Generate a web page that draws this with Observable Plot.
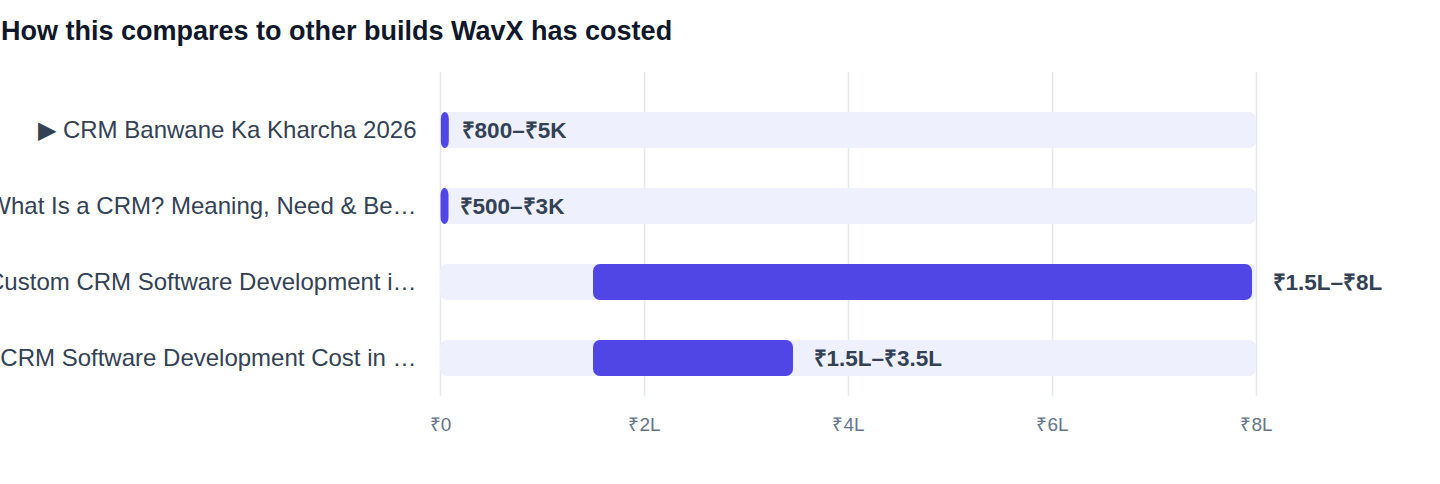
<!DOCTYPE html>
<html>
<head>
<meta charset="utf-8">
<script src="https://cdn.jsdelivr.net/npm/d3@7"></script>
<script src="https://cdn.jsdelivr.net/npm/@observablehq/plot@0.6"></script>
<style>
  html, body { margin: 0; padding: 0; background: #ffffff; }
  body { font-family: "Liberation Sans", Arial, Helvetica, sans-serif; }
  #title { margin: 0; height: 60px; line-height: 62px; font-size: 27px; font-weight: 700; color: #0f172a; padding-left: 1px; white-space: nowrap; }
  #chart svg { overflow: visible; }
</style>
</head>
<body>
<div id="title">How this compares to other builds WavX has costed</div>
<div id="chart"></div>
<script>
const categories = [
  "▶ CRM Banwane Ka Kharcha 2026",
  "What Is a CRM? Meaning, Need & Be…",
  "Custom CRM Software Development i…",
  "CRM Software Development Cost in …"
];
const lows = [800, 500, 150000, 150000];
const highs = [5000, 3000, 800000, 350000];
const rangeLabels = ["₹800–₹5K", "₹500–₹3K", "₹1.5L–₹8L", "₹1.5L–₹3.5L"];
const scaleMax = 800000;
const tickValues = [0, 200000, 400000, 600000, 800000];
const tickLabels = ["₹0", "₹2L", "₹4L", "₹6L", "₹8L"];

const rows = categories.map((c, i) => ({
  label: c, low: lows[i], high: highs[i], text: rangeLabels[i], max: scaleMax
}));

const RANGE_FILL = "#4f46e5";

const chart = Plot.plot({
  width: 1440,
  height: 424,
  marginLeft: 440,
  marginRight: 184,
  marginTop: 12,
  marginBottom: 88,
  style: { fontFamily: "'Liberation Sans', Arial, Helvetica, sans-serif", color: "#334155", background: "white" },
  x: { domain: [0, scaleMax], axis: null },
  y: { domain: categories, range: [32, 336], padding: 0, axis: null },
  marks: [
    Plot.ruleX(tickValues, { stroke: "#e2e8f0", strokeWidth: 1.5 }),
    Plot.barX(rows, { x1: 0, x2: "max", y: "label", fill: "#eef0fd", rx: 7, insetTop: 20, insetBottom: 20 }),
    Plot.barX(rows, { x1: "low", x2: "high", y: "label", fill: RANGE_FILL, rx: 7, insetTop: 20, insetBottom: 20 }),
    Plot.text(rows, { x: "high", y: "label", text: "text", dx: 16, textAnchor: "start", fontSize: 22.5, fontWeight: "bold", fill: "#334155" }),
    Plot.axisY({ tickSize: 0, tickPadding: 24, fontSize: 24, label: null, fill: "#334155" }),
    Plot.axisX({ ticks: tickValues, tickFormat: d => tickLabels[tickValues.indexOf(d)], tickSize: 0, tickPadding: 21, fontSize: 19, label: null, fill: "#64748b" })
  ]
});

// range bars: trimmed right edge with a minimum visible width
const bars = Array.from(chart.querySelectorAll("g")).filter(g => (g.getAttribute("fill") || "").toLowerCase() === RANGE_FILL);
bars.forEach(g => {
  g.querySelectorAll("rect").forEach(rect => {
    const w = +rect.getAttribute("width");
    rect.setAttribute("width", Math.max(8, w - 4));
  });
});

document.getElementById("chart").appendChild(chart);
</script>
</body>
</html>
